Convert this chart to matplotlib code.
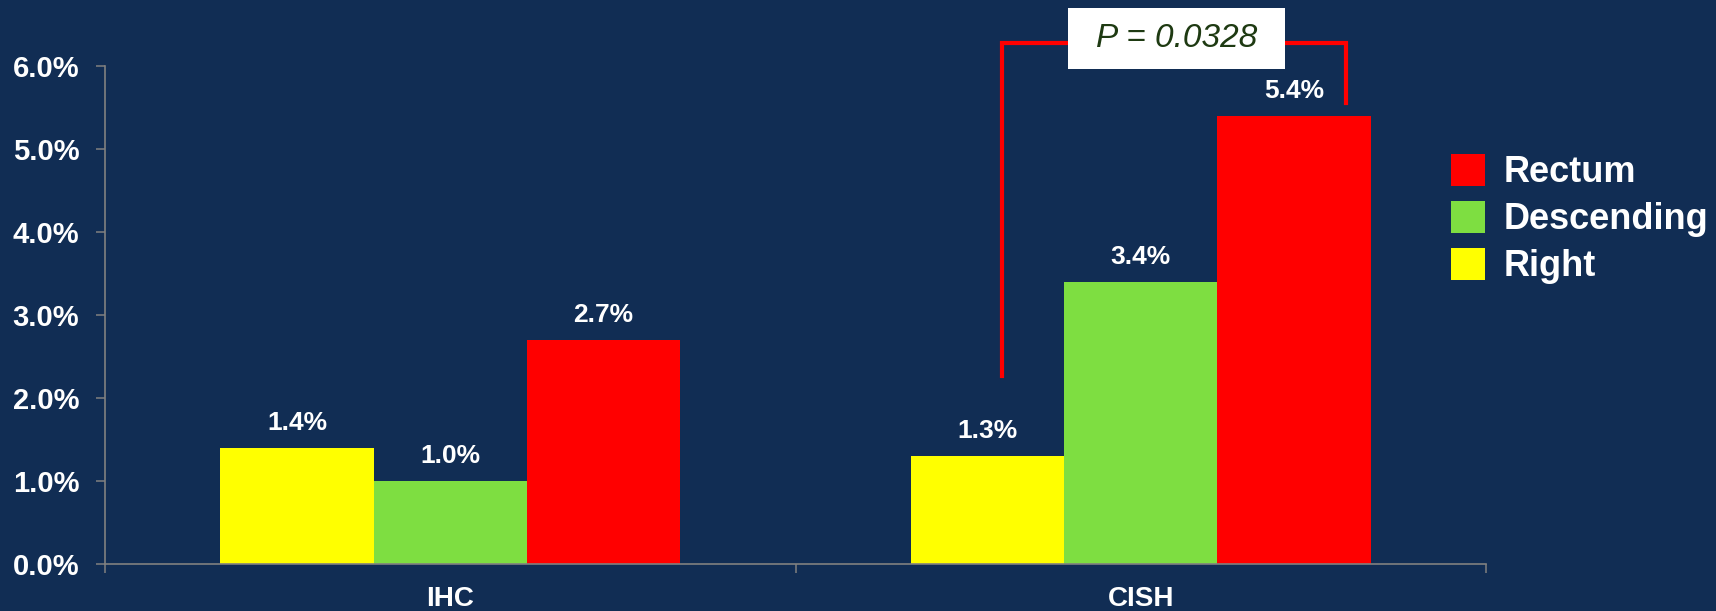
import numpy as np
import matplotlib.pyplot as plt
from matplotlib.patches import Rectangle

plt.rcParams['font.family'] = ['Liberation Sans', 'DejaVu Sans']
plt.rcParams['font.weight'] = 'bold'

categories = ['IHC', 'CISH']
series = ['Right', 'Descending', 'Rectum']
right = [1.4, 1.3]
descending = [1.0, 3.4]
rectum = [2.7, 5.4]
yticks = [0, 1, 2, 3, 4, 5, 6]
p_label = 'P = 0.0328'

bg = '#112d54'
grey = '#808080'
colors = {'Right': '#ffff00', 'Descending': '#7ede41', 'Rectum': '#ff0000'}

fig = plt.figure(figsize=(17.16, 6.11), dpi=100, facecolor=bg)
ax = fig.add_axes([0.0612, 0.0769, 0.8048, 0.8151])
ax.set_facecolor(bg)

x = np.arange(len(categories))
w = 0.222
handles = {}
for i, (name, vals) in enumerate(zip(series, [right, descending, rectum])):
    xs = x + (i - 1) * w
    handles[name] = ax.bar(xs, vals, w, color=colors[name], label=name, zorder=2)
    for xi, v in zip(xs, vals):
        ax.annotate(f'{v:.1f}%', (xi, v), xytext=(0, 13), textcoords='offset points',
                    ha='center', va='baseline', color='white', fontsize=19, fontweight='bold')

ax.set_xlim(-0.5, 1.5)
ax.set_ylim(0, 6)

# significance bracket between Right and Rectum (CISH)
bx0 = x[1] - w + 0.021
bx1 = x[1] + w + 0.075
ax.plot([bx0, bx0, bx1, bx1], [2.27, 6.28, 6.28, 5.56], color='#ff0000', lw=3,
        clip_on=False, zorder=3, solid_joinstyle='miter')
ax.add_patch(Rectangle((0.895, 5.96), 0.314, 0.74, facecolor='white', edgecolor='none',
                       clip_on=False, zorder=4))
ax.text(1.052, 6.33, p_label, ha='center', va='center', fontsize=24, style='italic',
        fontweight='normal', color='#1e3a12', zorder=5)

for s in ['top', 'right']:
    ax.spines[s].set_visible(False)
for s in ['left', 'bottom']:
    ax.spines[s].set_color(grey)
    ax.spines[s].set_linewidth(1.2)

ax.set_yticks(yticks)
ax.set_yticklabels([f'{t:.1f}%' for t in yticks])
ax.tick_params(axis='y', colors=grey, labelcolor='white', length=6.5, width=1.1,
               labelsize=21, pad=12)
ax.set_xticks(x)
ax.set_xticklabels(categories)
ax.set_xticks([-0.5, 0.5, 1.5], minor=True)
ax.tick_params(axis='x', which='major', length=0, labelcolor='white', labelsize=20, pad=16)
ax.tick_params(axis='x', which='minor', colors=grey, length=6.5, width=1.1)

order = ['Rectum', 'Descending', 'Right']
fig.legend([handles[n] for n in order], order, loc='upper left',
           bbox_to_anchor=(1451 / 1716, 1 - 154 / 611), frameon=False, fontsize=26,
           handlelength=0.94, handleheight=0.97, handletextpad=0.53, labelspacing=0.3,
           borderpad=0, borderaxespad=0, labelcolor='white')

fig.savefig('out.png', dpi=100, facecolor=bg)
